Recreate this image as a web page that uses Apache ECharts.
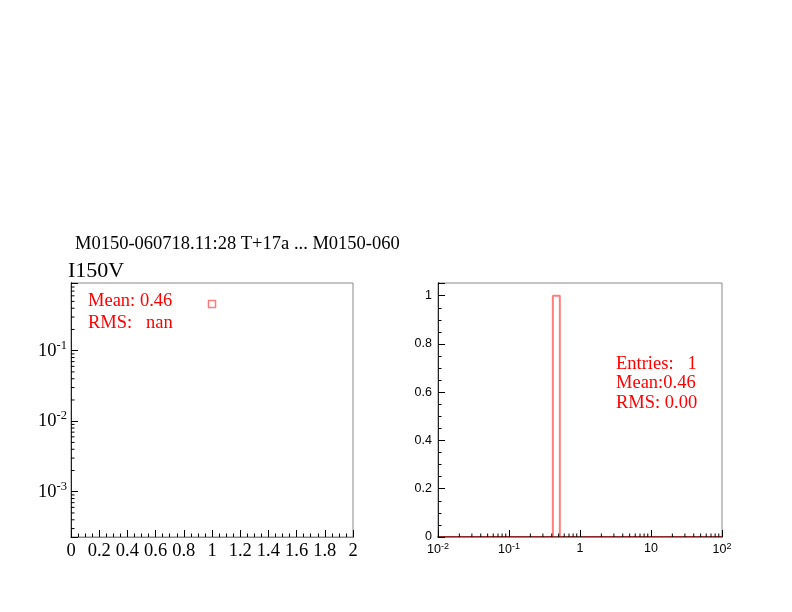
<!DOCTYPE html>
<html><head><meta charset="utf-8">
<script src="https://cdn.jsdelivr.net/npm/echarts@6/dist/echarts.min.js"></script>
<style>html,body{margin:0;padding:0;background:#fff}#c{width:792px;height:612px}</style>
</head><body><div id="c"></div>
<script>
// ---- data ----
const headerText = 'M0150-060718.11:28 T+17a ... M0150-060718';
const titleText = 'I150V';
const graphPoints = [[1.0, 0.46]];            // left pad: single graph point (x, y)
const leftStats = ['Mean: 0.46', 'RMS:   nan'];
const histEdges = [0.01, 0.415, 0.52, 100];   // right pad histogram bin edges (log x)
const histCounts = [0, 1, 0];                  // counts per bin
const rightStats = ['Entries:   1', 'Mean:0.46', 'RMS: 0.00'];
const leftXTicks = [0, 0.2, 0.4, 0.6, 0.8, 1, 1.2, 1.4, 1.6, 1.8, 2];
const rightYTicks = [0, 0.2, 0.4, 0.6, 0.8, 1];

// ---- helpers ----
function supLabel(v) {
  const e = Math.round(Math.log10(v));
  if (Math.abs(Math.log10(v) - e) > 1e-6) return '';
  if (e === 0) return '1';
  if (e === 1) return '10';
  return '10{sup|' + e + '}';
}
function logMinor(lo, hi) {
  const out = [];
  for (let k = -6; k <= 3; k++) for (let m = 2; m <= 9; m++) {
    const v = m * Math.pow(10, k);
    if (v > lo && v < hi) out.push(v);
  }
  return out;
}
// histogram step outline
const histLine = [];
histLine.push([histEdges[0], 0]);
for (let i = 0; i < histCounts.length; i++) {
  histLine.push([histEdges[i], histCounts[i]]);
  histLine.push([histEdges[i + 1], histCounts[i]]);
}
histLine.push([histEdges[histEdges.length - 1], 0]);

const LY_MIN = 2.28e-4, LY_MAX = 0.912;
const RX_MIN = 0.01, RX_MAX = 100;
const serif = 'Liberation Serif';
const sans = 'Liberation Sans';

const chart = echarts.init(document.getElementById('c'), null, {renderer: 'canvas'});
const red = '#ff0000';

chart.setOption({
  animation: false,
  backgroundColor: '#fff',
  grid: [
    {left: 71, top: 283, width: 282, height: 254, show: true, borderColor: '#888', borderWidth: 1, containLabel: false},
    {left: 438, top: 283, width: 284, height: 254, show: true, borderColor: '#888', borderWidth: 1, containLabel: false}
  ],
  xAxis: [
    {type: 'value', gridIndex: 0, min: 0, max: 2, interval: 0.2,
     axisLine: {show: true, onZero: false, lineStyle: {color: '#000', width: 1}},
     axisTick: {show: true, inside: true, length: 7, lineStyle: {color: '#000'}},
     minorTick: {show: true, splitNumber: 4, length: 3.5, lineStyle: {color: '#000'}},
     splitLine: {show: false},
     axisLabel: {show: true, margin: 5, fontFamily: serif, fontSize: 18.5, color: '#000',
       formatter: v => (leftXTicks.some(t => Math.abs(t - v) < 1e-9) ? String(+v.toFixed(1)) : '')}},
    {type: 'log', logBase: 10, gridIndex: 1, min: RX_MIN, max: RX_MAX,
     axisLine: {show: true, onZero: false, lineStyle: {color: '#7a0a0a', width: 1.5}},
     axisTick: {show: true, inside: true, length: 7, lineStyle: {color: '#000'}},
     splitLine: {show: false},
     axisLabel: {show: true, margin: 5, fontFamily: sans, fontSize: 12.5, color: '#000',
       formatter: v => supLabel(v),
       rich: {sup: {fontFamily: sans, fontSize: 9, verticalAlign: 'top', padding: [0, 0, 7, 0]}}}},
    // top frame lines
    {type: 'value', gridIndex: 0, position: 'top', show: true, min: 0, max: 2,
     axisLine: {show: true, lineStyle: {color: '#888'}}, axisTick: {show: false}, axisLabel: {show: false}, splitLine: {show: false}},
    {type: 'value', gridIndex: 1, position: 'top', show: true, min: 0, max: 1,
     axisLine: {show: true, lineStyle: {color: '#888'}}, axisTick: {show: false}, axisLabel: {show: false}, splitLine: {show: false}}
  ],
  yAxis: [
    {type: 'log', logBase: 10, gridIndex: 0, min: LY_MIN, max: LY_MAX,
     axisLine: {show: true, onZero: false, lineStyle: {color: '#000', width: 1}},
     axisTick: {show: true, inside: true, length: 7, lineStyle: {color: '#000'}},
     splitLine: {show: false},
     axisLabel: {show: true, margin: 4, fontFamily: serif, fontSize: 18.5, color: '#000',
       formatter: v => supLabel(v),
       rich: {sup: {fontFamily: serif, fontSize: 12.5, verticalAlign: 'top', padding: [0, 0, 10, 0]}}}},
    {type: 'value', gridIndex: 1, min: 0, max: 1.0526, interval: 0.2,
     axisLine: {show: true, onZero: false, lineStyle: {color: '#000', width: 1}},
     axisTick: {show: true, inside: true, length: 7, lineStyle: {color: '#000'}},
     minorTick: {show: true, splitNumber: 4, length: 3.5, lineStyle: {color: '#000'}},
     splitLine: {show: false},
     axisLabel: {show: true, margin: 6, fontFamily: sans, fontSize: 12.5, color: '#000',
       formatter: v => (rightYTicks.some(t => Math.abs(t - v) < 1e-9) ? String(+v.toFixed(1)) : '')}},
    {type: 'value', gridIndex: 0, position: 'right', min: 0, max: 1,
     axisLine: {show: true, lineStyle: {color: '#222'}}, axisTick: {show: false}, axisLabel: {show: false}, splitLine: {show: false}},
    {type: 'value', gridIndex: 1, position: 'right', min: 0, max: 1,
     axisLine: {show: true, lineStyle: {color: '#222'}}, axisTick: {show: false}, axisLabel: {show: false}, splitLine: {show: false}}
  ],
  series: [
    {type: 'scatter', xAxisIndex: 0, yAxisIndex: 0, data: graphPoints,
     symbol: 'rect', symbolSize: 7,
     itemStyle: {color: 'rgba(0,0,0,0)', borderColor: '#ff5a5a', borderWidth: 1.5}},
    // left y log minor ticks
    {type: 'custom', xAxisIndex: 0, yAxisIndex: 0, silent: true, clip: false,
     data: logMinor(LY_MIN, LY_MAX).map(v => [0, v]),
     renderItem: (params, api) => {
       const p = api.coord([0, api.value(1)]);
       return {type: 'line', shape: {x1: p[0], y1: p[1], x2: p[0] + 3.5, y2: p[1]}, style: {stroke: '#000', lineWidth: 1}};
     }},
    // right x log minor ticks
    {type: 'custom', xAxisIndex: 1, yAxisIndex: 1, silent: true, clip: false,
     data: logMinor(RX_MIN, RX_MAX).map(v => [v, 0]),
     renderItem: (params, api) => {
       const p = api.coord([api.value(0), 0]);
       return {type: 'line', shape: {x1: p[0], y1: p[1], x2: p[0], y2: p[1] - 3.5}, style: {stroke: '#000', lineWidth: 1}};
     }},
    {type: 'line', xAxisIndex: 1, yAxisIndex: 1, data: histLine, symbol: 'none',
     lineStyle: {color: 'rgba(255,0,0,0.5)', width: 2}, z: -1}
  ],
  graphic: [
    {type: 'text', left: 75, top: 235, z: 10,
     style: {text: headerText, fontFamily: serif, fontSize: 18.5, fill: '#000', width: 332, overflow: 'truncate', ellipsis: ''}},
    {type: 'text', left: 68, top: 260, z: 10,
     style: {text: titleText, fontFamily: serif, fontSize: 22, fill: '#000'}},
    {type: 'text', left: 88, top: 290, z: 10,
     style: {text: leftStats.join('\n'), fontFamily: serif, fontSize: 18.5, lineHeight: 22, fill: red}},
    {type: 'text', left: 616, top: 354, z: 10,
     style: {text: rightStats.join('\n'), fontFamily: serif, fontSize: 18.5, lineHeight: 19.7, fill: red}}
  ]
});
</script></body></html>
